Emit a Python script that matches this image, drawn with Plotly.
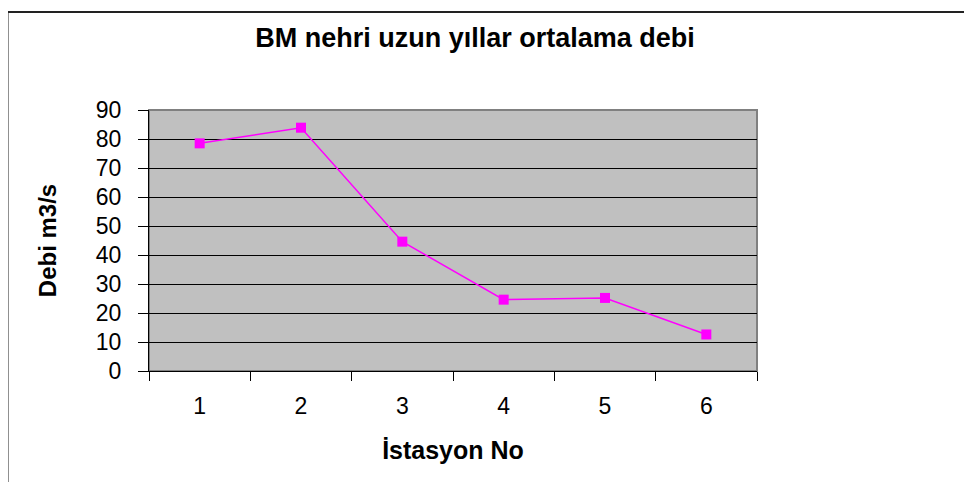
import plotly.graph_objects as go

stations = ["1", "2", "3", "4", "5", "6"]
debi = [78.5, 83.9, 44.6, 24.6, 25.2, 12.6]
y_ticks = [0, 10, 20, 30, 40, 50, 60, 70, 80, 90]

W, H = 972, 482
OFF = 8  # page offset of the figure (body margin)
# plot area in page pixels
L, R, T, B = 149, 757, 110, 371
pw, ph = R - L, B - T

def px_x(px):
    return (px - L) / pw

def px_y(py):
    return (B - py) / ph

fig = go.Figure()
fig.add_trace(go.Scatter(
    x=stations, y=debi, mode="lines+markers",
    line=dict(color="#FF00FF", width=1.5),
    marker=dict(symbol="square", size=10, color="#FF00FF"),
    showlegend=False, cliponaxis=False,
))

font = "Liberation Sans, Arial, sans-serif"
fig.update_layout(
    width=W, height=H,
    margin=dict(l=L - OFF, r=W - (R - OFF), t=T - OFF, b=H - (B - OFF), pad=0),
    paper_bgcolor="white",
    plot_bgcolor="#C0C0C0",
    font=dict(family=font, color="black"),
    title=dict(text="<b>BM nehri uzun yıllar ortalama debi</b>",
               x=(475 - OFF) / W, xref="container", xanchor="center",
               y=1 - (38 - OFF) / H, yref="container", yanchor="middle",
               font=dict(size=27, family=font, color="black")),
    xaxis=dict(type="category", tickson="boundaries", ticks="outside",
               range=[-0.5, len(stations) - 0.5],
               ticklen=9, tickcolor="black", tickwidth=1,
               showline=True, linecolor="black", linewidth=1,
               showgrid=False, tickfont=dict(size=23),
               ticklabelstandoff=14,
               title=dict(text="<b>İstasyon No</b>", font=dict(size=25), standoff=23)),
    yaxis=dict(range=[0, 90], tickvals=y_ticks, ticks="outside", ticklen=10,
               tickcolor="black", tickwidth=1,
               showline=True, linecolor="black", linewidth=1,
               showgrid=True, gridcolor="black", gridwidth=1,
               zeroline=False, tickfont=dict(size=23),
               ticklabelstandoff=12,
               title=dict(text="<b>Debi m3/s</b>", font=dict(size=24), standoff=32)),
    shapes=[
        dict(type="rect", xref="paper", yref="paper", x0=0, x1=1, y0=0, y1=1,
             line=dict(color="#808080", width=2), layer="below"),
        dict(type="line", xref="paper", yref="paper",
             x0=px_x(7.5), x1=px_x(7.5), y0=px_y(12), y1=px_y(500),
             line=dict(color="#222222", width=2)),
        dict(type="line", xref="paper", yref="paper",
             x0=px_x(7.5), x1=px_x(990), y0=px_y(12), y1=px_y(12),
             line=dict(color="#222222", width=2)),
    ],
)

fig.write_html("out.html")
